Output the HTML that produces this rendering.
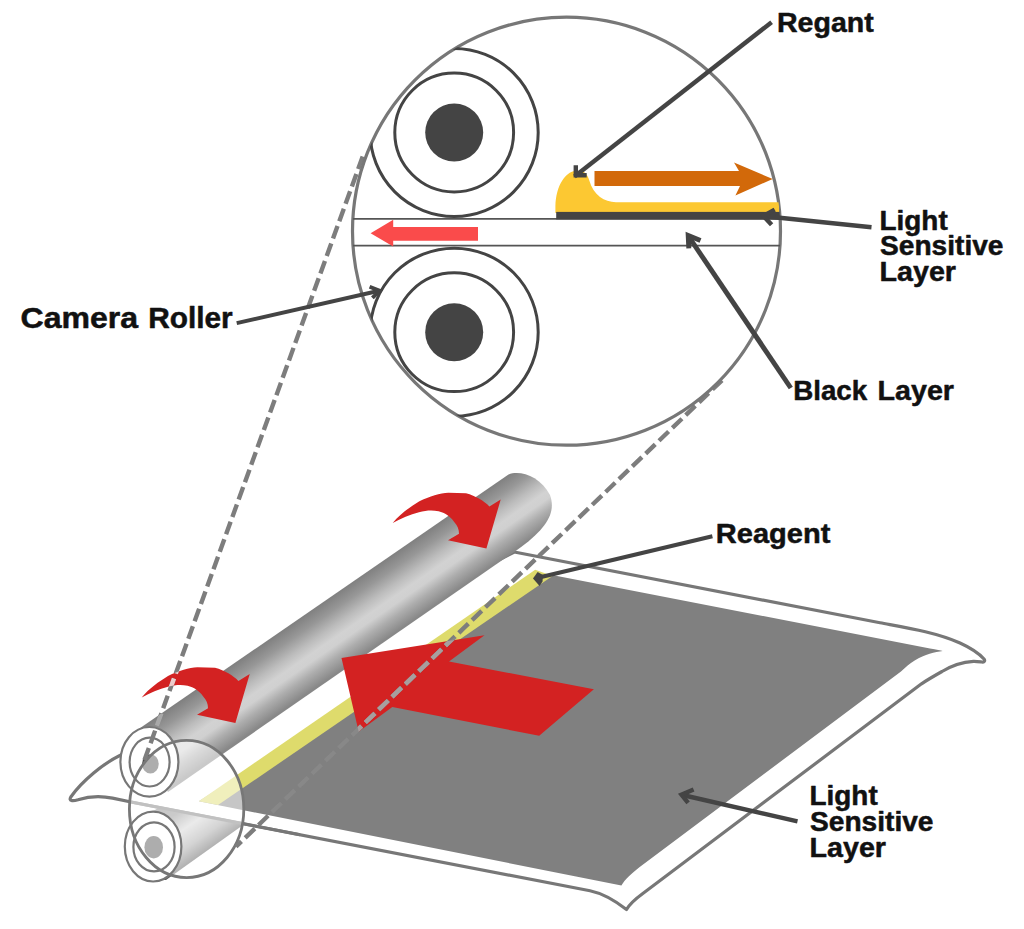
<!DOCTYPE html>
<html><head><meta charset="utf-8">
<style>
html,body{margin:0;padding:0;background:#fff;}
body{width:1024px;height:929px;overflow:hidden;font-family:"Liberation Sans",sans-serif;}
svg{display:block}
text{font-family:"Liberation Sans",sans-serif;font-weight:bold;fill:#111;stroke:#111;stroke-width:0.5px;stroke-linejoin:round;}
</style></head><body>
<svg width="1024" height="929" viewBox="0 0 1024 929">
<defs>
<clipPath id="grayc"><path d="M552 575 L942.7 651 L901 671.5 L639.4 867.2 L621.4 885.6 L198.75 801.25 Z"/></clipPath>
<clipPath id="redc"><path d="M392.7 523 C400 514 410 507 419 501.5 C430 496 440 493 448.4 492.7 L466 493.3 C476 496 484 501 489.4 506.4 L500.7 499.5 L486.4 548.4 L448 540.2 L459 533.7 C459 529 457.5 526 454.2 522 C450 516 445 513 438.6 511.3 C432 510 426 510.5 419 512.2 C410 514.5 401 518.5 392.7 523 Z" transform="translate(-251 174.5)"/><path d="M341.5 657.9 L484.5 635.2 L449 661.4 L593.9 689.3 L539.2 735.8 L392.3 707.1 L358.7 731.7 Z"/></clipPath>
<clipPath id="cylc"><path d="M130 735 L200 686.8 L200 727 L130 727 Z"/></clipPath>
<clipPath id="bigc"><circle cx="566.5" cy="231.2" r="214"/></clipPath>
<linearGradient id="cyl" gradientUnits="userSpaceOnUse" x1="300" y1="617" x2="338" y2="672">
<stop offset="0" stop-color="#7e7e7e"/><stop offset="0.2" stop-color="#979797"/><stop offset="0.4" stop-color="#bcbcbc"/><stop offset="0.55" stop-color="#d2d2d2"/><stop offset="0.65" stop-color="#d0d0d0"/><stop offset="0.8" stop-color="#adadad"/><stop offset="1" stop-color="#888"/>
</linearGradient>
<linearGradient id="cyl2" gradientUnits="userSpaceOnUse" x1="173" y1="792" x2="211" y2="847">
<stop offset="0" stop-color="#7e7e7e"/><stop offset="0.3" stop-color="#8c8c8c"/><stop offset="0.55" stop-color="#d2d2d2"/><stop offset="0.8" stop-color="#a0a0a0"/><stop offset="1" stop-color="#585858"/>
</linearGradient>
</defs>
<rect width="1024" height="929" fill="#fff"/>

<!-- ===== bottom illustration ===== -->
<g id="bottom">
<!-- sheet outline -->
<path id="sheet" d="M120.3 755.2 C104 763 82 781 70.8 797 C68.5 801 72.5 801.3 78 799.7 C88 796.5 98 795 112.5 798.1 L131 802 L590 890.8 C602 893.3 613 899 626.5 909.6 C629 905 634 900 642.5 893.75 L921.5 683.8 C928 679.5 934 676 942 671.5 C950 666.5 962 662 973.5 661.3 C976 661.2 978 661.5 981.7 662 C984 662.2 985.5 661 984 659 C980 654.5 972 648.5 960 643 C935 632 905 627.5 880 622.8 L514.3 552 Z" fill="#fff" stroke="#777" stroke-width="3.2" stroke-linejoin="round"/>
<!-- lower roller body -->
<path d="M150 813 L159 807.6 L243.8 824.4 L166 880 L150 880 Z" fill="url(#cyl2)"/>
<path d="M131 802 L300 834.7" stroke="#777" stroke-width="3" fill="none"/>
<!-- gray area -->
<path d="M552 575 L930 648.5 Q940 650.3 942.7 651 C935 652 925 654 914.7 660.6 C910 663.5 906 667 901 671.5 L639.4 867.2 C632 873 625 879 621.4 885.6 L198.75 801.25 Z" fill="#808080"/>
<!-- yellow strip -->
<path d="M535.2 569.7 L552.5 576 L218 805.1 L198.75 801.25 Z" fill="#dedb6c"/>
<!-- upper roller -->
<path d="M130 735 L508.5 474.5 C520 470 540 476 550 495 C556 512 548 528 517 550 L168 792 Z" fill="url(#cyl)"/>
</g>

<ellipse cx="149.4" cy="761.8" rx="29" ry="34.8" fill="#fff"/>
<ellipse cx="153.1" cy="846.6" rx="28.3" ry="34.9" fill="#fff"/>
<ellipse cx="150.4" cy="763.9" rx="8.3" ry="9.7" fill="#4a4a4a"/>
<ellipse cx="153.7" cy="847.2" rx="9.3" ry="11.2" fill="#4a4a4a"/>
<!-- magnifier small ellipse -->
<ellipse cx="186.6" cy="809" rx="57.2" ry="68.6" fill="#fff" fill-opacity="0.55" stroke="none"/>
<!-- roller ends -->
<g fill="none" stroke="#777" stroke-width="2.2">
<ellipse cx="149.4" cy="761.8" rx="29" ry="34.8"/>
<ellipse cx="149.6" cy="762.1" rx="20" ry="24.4"/>
<ellipse cx="153.1" cy="846.6" rx="28.3" ry="34.9"/>
<ellipse cx="154" cy="846.9" rx="20.6" ry="24.5"/>
</g>
<ellipse cx="186.6" cy="809" rx="57.2" ry="68.6" fill="none" stroke="#777" stroke-width="2.8"/>


<!-- red arrows -->
<g fill="#d32222">
<path id="carrow" d="M392.7 523 C400 514 410 507 419 501.5 C430 496 440 493 448.4 492.7 L466 493.3 C476 496 484 501 489.4 506.4 L500.7 499.5 L486.4 548.4 L448 540.2 L459 533.7 C459 529 457.5 526 454.2 522 C450 516 445 513 438.6 511.3 C432 510 426 510.5 419 512.2 C410 514.5 401 518.5 392.7 523 Z"/>
<use href="#carrow" transform="translate(-251 174.5)"/>
<path d="M341.5 657.9 L484.5 635.2 L449 661.4 L593.9 689.3 L539.2 735.8 L392.3 707.1 L358.7 731.7 Z"/>
</g>

<!-- dashed lines -->
<g stroke="#7d7d7d" stroke-width="4.4" stroke-dasharray="13.3 5.2" fill="none">
<line x1="362.7" y1="156.5" x2="144.5" y2="760"/>
<line x1="722" y1="380.3" x2="236" y2="846.6"/>
</g>
<g stroke-width="4.4" stroke-dasharray="13.3 5.2" fill="none">
<line x1="722" y1="380.3" x2="236" y2="846.6" stroke="#888" clip-path="url(#grayc)"/>
<line x1="362.7" y1="156.5" x2="144.5" y2="760" stroke="#a8a8a8" clip-path="url(#cylc)"/>
<g clip-path="url(#redc)" stroke="#a89e9e"><line x1="722" y1="380.3" x2="236" y2="846.6"/><line x1="362.7" y1="156.5" x2="144.5" y2="760" stroke="#ecc"/></g>
</g>
<!-- ===== top circle ===== -->
<circle cx="566.5" cy="231.2" r="214" fill="#fff" stroke="#777" stroke-width="3.2"/>
<g clip-path="url(#bigc)">
<g fill="none" stroke="#444" stroke-width="3">
<circle cx="454.2" cy="132.5" r="84"/><circle cx="454.2" cy="132.5" r="59.4"/>
<circle cx="454.2" cy="332.2" r="84"/><circle cx="454.2" cy="332.2" r="59.4"/>
</g>
<circle cx="454.2" cy="132.5" r="29" fill="#444"/>
<circle cx="454.2" cy="332.2" r="29" fill="#444"/>
<line x1="340" y1="218.8" x2="790" y2="218.8" stroke="#555" stroke-width="1.8"/>
<line x1="340" y1="245.6" x2="790" y2="245.6" stroke="#555" stroke-width="1.8"/>
<!-- yellow reagent -->
<path d="M555.4 213 L555.4 206 C555.6 196 558 187 562.3 180.5 C566 175 570 171.5 575 171 L581 171 C585 171.5 587.7 175 589.3 180.5 C591.3 187.5 595 193 600 197 C604.5 200.5 610 202 616 202.2 L779 202.2 L779 213 Z" fill="#fcc832"/>
<rect x="556.2" y="211.9" width="224" height="7.5" fill="#444"/>
</g>
<!-- red small arrow -->
<path d="M370.6 233.2 L393.2 219.8 L393.2 226.9 L478 226.9 L478 240.8 L393.2 240.8 L393.2 246.4 Z" fill="#fa4b4b"/>
<!-- orange arrow -->
<path d="M594.5 171 L739 171 L734 162.4 L772.7 179 L735.4 195.6 L740 186 L594.5 186 Z" fill="#d2690a"/>

<!-- label arrows -->
<g stroke="#444" stroke-width="4.4" fill="none" stroke-linecap="butt" stroke-linejoin="miter">
<line x1="771.6" y1="22.2" x2="574.5" y2="176.4"/>
<polyline points="575.8,165.2 575.8,175.2 586.7,175.2"/>
<g stroke-width="4.5"><line x1="871.5" y1="227.2" x2="765" y2="216.2"/>
<polyline points="774.7,209.6 763.5,216 771.6,224.8"/>
</g><g stroke-width="4.9"><line x1="790.8" y1="388" x2="689" y2="237"/>
<polyline points="688.8,248.3 688.2,235.5 700.5,240.6"/></g>
<g stroke-width="3.9"><line x1="236.7" y1="323.2" x2="378" y2="291"/>
<polyline points="369.6,286.7 379.6,290.8 372.4,297.8"/></g>
<g stroke-width="4.4"><line x1="797.5" y1="821.3" x2="682.5" y2="795"/>
<polyline points="693.6,789.5 681.5,794.6 688.1,802.8"/></g>
</g>
<g stroke="#444" stroke-width="4.1" fill="#444">
<line x1="712.4" y1="536.2" x2="539" y2="577.6"/>
<path d="M533 578.5 L537.6 572 L543 575 L542.5 581.5 L539.6 586 Z" stroke="none"/>
</g>

<!-- text -->
<g id="labels">
<text id="t_regant" x="777" y="31.6" font-size="28.2" textLength="96.8" lengthAdjust="spacingAndGlyphs">Regant</text>
<text id="t_light1" x="879.5" y="229.6" font-size="27" textLength="68.2" lengthAdjust="spacingAndGlyphs">Light</text>
<text id="t_sens1" x="880" y="255.2" font-size="27" textLength="123.5" lengthAdjust="spacingAndGlyphs">Sensitive</text>
<text id="t_layer1" x="879.5" y="280.8" font-size="27" textLength="76.5" lengthAdjust="spacingAndGlyphs">Layer</text>
<text id="t_black" x="793.2" y="399.7" font-size="28" textLength="74" lengthAdjust="spacingAndGlyphs">Black</text>
<text id="t_layerb" x="877.5" y="399.7" font-size="28" textLength="76.5" lengthAdjust="spacingAndGlyphs">Layer</text>
<text id="t_camera" x="20.5" y="328.2" font-size="29.5" textLength="117.5" lengthAdjust="spacingAndGlyphs">Camera</text>
<text id="t_roller" x="148.2" y="328.2" font-size="29.5" textLength="84.5" lengthAdjust="spacingAndGlyphs">Roller</text>
<text id="t_reagent" x="715.8" y="543" font-size="28" textLength="114.5" lengthAdjust="spacingAndGlyphs">Reagent</text>
<text id="t_light2" x="809.5" y="805.4" font-size="27" textLength="68.2" lengthAdjust="spacingAndGlyphs">Light</text>
<text id="t_sens2" x="810" y="831" font-size="27" textLength="123.5" lengthAdjust="spacingAndGlyphs">Sensitive</text>
<text id="t_layer2" x="809.5" y="856.6" font-size="27" textLength="76.5" lengthAdjust="spacingAndGlyphs">Layer</text>
</g>
</svg>
</body></html>
